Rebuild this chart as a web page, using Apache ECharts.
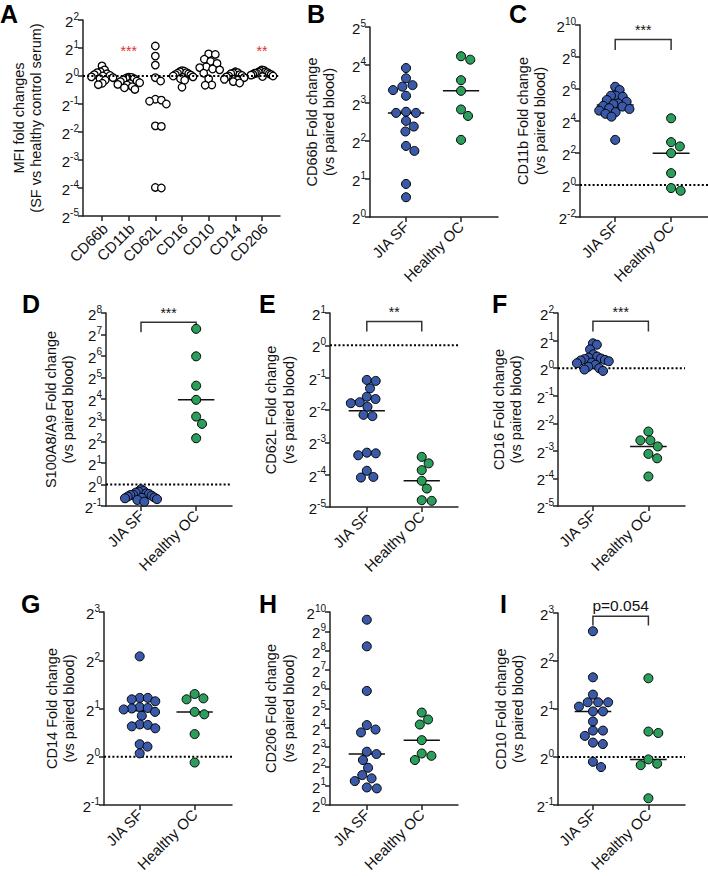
<!DOCTYPE html>
<html><head><meta charset="utf-8">
<script src="https://cdn.jsdelivr.net/npm/echarts@6/dist/echarts.min.js"></script>
<style>html,body{margin:0;padding:0;background:#fff}#c{width:708px;height:876px}</style>
</head><body><div id="c"></div>
<script>
// ===== DATA (values are log2 fold change, i.e. the exponent n of 2^n) =====
const groupLabels = ['JIA SF', 'Healthy OC'];
const markerLabels = ['CD66b', 'CD11b', 'CD62L', 'CD16', 'CD10', 'CD14', 'CD206'];

// Panel A: MFI fold changes (SF vs healthy control serum)
const aCD66b = [0.36, 0.22, 0.15, 0.12, 0.08, 0.05, 0.02, 0.0, -0.03, -0.06, -0.1, -0.15, -0.26, -0.31];
const aCD11b = [-0.04, -0.05, -0.08, -0.1, -0.14, -0.18, -0.2, -0.24, -0.27, -0.3, -0.32, -0.38, -0.42, -0.48];
const aCD62L = [1.07, 0.71, 0.39, -0.06, -0.18, -0.83, -0.86, -0.9, -1.0, -1.78, -1.8, -3.98, -4.0];
const aCD16  = [0.19, 0.17, 0.15, 0.12, 0.1, 0.08, 0.05, 0.03, 0.0, -0.03, -0.05, -0.1, -0.15, -0.4];
const aCD10  = [0.79, 0.77, 0.6, 0.52, 0.45, 0.33, 0.3, 0.25, 0.22, 0.1, -0.1, -0.32, -0.33];
const aCD14  = [0.15, 0.12, 0.1, 0.08, 0.05, 0.02, 0.0, -0.03, -0.06, -0.1, -0.12, -0.15, -0.2, -0.25];
const aCD206 = [0.22, 0.2, 0.18, 0.15, 0.14, 0.12, 0.1, 0.1, 0.08, 0.06, 0.05, 0.03, 0.0, -0.02];
const aSigPos = [2, 7];            // category index (CD11b, CD206)
const aSigLevel = [0.89, 0.89];    // exponent level of the stars
const aSigText = ['***', '**'];

// Panels B-I: fold change vs paired blood
const bSF = [3.92, 3.65, 3.47, 3.43, 3.34, 3.19, 2.77, 2.74, 2.74, 2.53, 2.38, 2.25, 1.87, 1.74, 0.87, 0.52];
const bOC = [4.23, 4.14, 3.6, 3.32, 2.83, 2.66, 2.03];
const cSF = [6.14, 5.94, 5.58, 5.58, 5.52, 5.31, 5.2, 5.1, 5.05, 4.95, 4.9, 4.8, 4.75, 4.65, 4.55, 4.45, 4.27, 2.82];
const cOC = [4.17, 2.68, 2.41, 1.99, 0.74, -0.19, -0.36];
const dSF = [-0.22, -0.3, -0.33, -0.38, -0.41, -0.44, -0.47, -0.49, -0.52, -0.56, -0.6, -0.62, -0.64, -0.68, -0.72, -0.8];
const dOC = [7.26, 5.98, 4.61, 3.95, 3.17, 2.83, 2.16];
const eSF = [-1.07, -1.1, -1.33, -1.59, -1.66, -1.76, -1.79, -1.9, -2.15, -2.19, -3.32, -3.34, -3.4, -3.88, -4.07, -4.09];
const eOC = [-3.45, -3.65, -3.86, -4.19, -4.43, -4.79, -4.81];
const fSF = [0.9, 0.85, 0.68, 0.5, 0.42, 0.38, 0.35, 0.33, 0.3, 0.28, 0.25, 0.2, 0.18, 0.12, 0.05, 0.0, -0.05, -0.1];
const fOC = [-2.3, -2.62, -2.62, -2.84, -3.11, -3.27, -3.93];
const gSF = [2.08, 1.22, 1.22, 1.19, 1.15, 1.03, 1.01, 1.0, 0.98, 0.93, 0.85, 0.67, 0.66, 0.63, 0.59, 0.26, 0.21, 0.07];
const gOC = [1.3, 1.21, 1.19, 0.93, 0.88, 0.47, -0.12];
const hSF = [9.6, 8.22, 5.91, 4.14, 3.91, 3.76, 2.76, 2.64, 2.33, 1.93, 1.55, 1.38, 1.24, 0.91, 0.86];
const hOC = [4.79, 4.43, 4.17, 3.36, 2.67, 2.55, 2.33];
const iSF = [2.62, 1.66, 1.3, 1.14, 1.14, 1.14, 1.05, 0.95, 0.95, 0.74, 0.55, 0.55, 0.44, 0.3, 0.27, -0.1, -0.21];
const iOC = [1.64, 0.53, 0.5, -0.05, -0.14, -0.17, -0.86];

// y tick exponents (min, max, step)
const yTicksA = [-5, 2, 1];
const yTicksB = [0, 5, 1];
const yTicksC = [-2, 10, 2];
const yTicksD = [-1, 8, 1];
const yTicksE = [-5, 1, 1];
const yTicksF = [-5, 2, 1];
const yTicksG = [-1, 3, 1];
const yTicksH = [0, 10, 1];
const yTicksI = [-1, 3, 1];

// significance brackets: [lower leg end, bracket top] in exponent units, and label
const bracketC = [8.44, 9.1], sigC = '***';
const bracketD = [7.1, 7.57], sigD = '***';
const bracketE = [0.43, 0.74], sigE = '**';
const bracketF = [1.33, 1.7], sigF = '***';
const bracketI = [2.74, 2.93], sigI = 'p=0.054';

// ===== LAYOUT / STYLE =====
const FONT = "'Liberation Sans', Arial, Helvetica, sans-serif";
const BLUE = '#3a5aa9', GREEN = '#2b9e5c';
const AX = '#222';

const panels = [
  {t:'A', tl:[0,1], grid:[83,20,197,196], xr:[0.2875,7.675], y:yTicksA, cats:markerLabels,
   groups:[aCD66b,aCD11b,aCD62L,aCD16,aCD10,aCD14,aCD206], open:true,
   name:'MFI fold changes\n(SF vs healthy control serum)', gap:38, ref:true},
  {t:'B', tl:[307,1], grid:[370,27,128,190], xr:[0.345,2.672], y:yTicksB, cats:groupLabels, groups:[bSF,bOC],
   name:'CD66b Fold change\n(vs paired blood)', gap:32, ref:false},
  {t:'C', tl:[509,1], grid:[580,25,128,192], xr:[0.37,2.66], y:yTicksC, cats:groupLabels, groups:[cSF,cOC],
   name:'CD11b Fold change\n(vs paired blood)', gap:31, ref:true, br:bracketC, sig:sigC},
  {t:'D', tl:[22,291], grid:[106,313,126,193], xr:[0.365,2.65], y:yTicksD, cats:groupLabels, groups:[dSF,dOC],
   name:'S100A8/A9 Fold change\n(vs paired blood)', gap:29, ref:true, br:bracketD, sig:sigD},
  {t:'E', tl:[259,291], grid:[330,313,128,194], xr:[0.33,2.66], y:yTicksE, cats:groupLabels, groups:[eSF,eOC],
   name:'CD62L Fold change\n(vs paired blood)', gap:32.5, ref:true, br:bracketE, sig:sigE},
  {t:'F', tl:[492,291], grid:[558,313,127,193], xr:[0.37,2.66], y:yTicksF, cats:groupLabels, groups:[fSF,fOC],
   name:'CD16 Fold change\n(vs paired blood)', gap:33, ref:true, br:bracketF, sig:sigF},
  {t:'G', tl:[21,591], grid:[104,612,128,193], xr:[0.35,2.68], y:yTicksG, cats:groupLabels, groups:[gSF,gOC],
   name:'CD14 Fold change\n(vs paired blood)', gap:26, ref:true},
  {t:'H', tl:[259,591], grid:[330,612,128,193], xr:[0.33,2.66], y:yTicksH, cats:groupLabels, groups:[hSF,hOC],
   name:'CD206 Fold change\n(vs paired blood)', gap:32.5, ref:false},
  {t:'I', tl:[500,591], grid:[558,613,127,192], xr:[0.37,2.66], y:yTicksI, cats:groupLabels, groups:[iSF,iOC],
   name:'CD10 Fold change\n(vs paired blood)', gap:31, ref:true, br:bracketI, sig:sigI}
];

function median(a) {
  const s = a.slice().sort((x, y) => x - y), n = s.length;
  return n % 2 ? s[(n - 1) / 2] : (s[n / 2 - 1] + s[n / 2]) / 2;
}

// beeswarm offsets (in x-axis units); swarm is squeezed to at most +-lim px
function swarm(vals, pxY, pxX, sx, sy, lim) {
  const order = vals.map((v, i) => i).sort((a, b) => vals[b] - vals[a]);
  const placed = [], outPx = new Array(vals.length);
  order.forEach(i => {
    const y = vals[i] * pxY, forb = [];
    placed.forEach(p => {
      const d = Math.abs(p.y - y);
      if (d < sy) { const w = sx * Math.sqrt(1 - (d / sy) * (d / sy)); forb.push([p.x - w, p.x + w]); }
    });
    const cands = [0];
    forb.forEach(f => cands.push(f[0], f[1]));
    cands.sort((a, b) => (Math.abs(a) - Math.abs(b)) || (b - a));
    let x = 0;
    for (const c of cands) {
      if (forb.every(f => c <= f[0] + 1e-6 || c >= f[1] - 1e-6)) { x = c; break; }
    }
    placed.push({x: x, y: y});
    outPx[i] = x;
  });
  const m = Math.max.apply(null, outPx.map(Math.abs));
  const k = m > lim ? lim / m : 1;
  return outPx.map(x => x * k / pxX);
}

const grids = [], xAxes = [], yAxes = [], series = [], titles = [];
const colors = [BLUE, GREEN];

panels.forEach((p, i) => {
  titles.push({text: p.t, left: p.tl[0], top: p.tl[1], padding: 0,
    textStyle: {fontFamily: FONT, fontSize: 25, fontWeight: 'bold', color: '#000'}});
  grids.push({left: p.grid[0], top: p.grid[1], width: p.grid[2], height: p.grid[3],
    containLabel: false, outerBoundsMode: 'none'});
  const catVals = p.cats.map((c, k) => k + 1);
  xAxes.push({gridIndex: i, type: 'value', min: p.xr[0], max: p.xr[1],
    axisLine: {show: true, onZero: false, lineStyle: {color: AX, width: 1.5}},
    splitLine: {show: false},
    axisTick: {show: true, customValues: catVals, length: 5, lineStyle: {color: AX, width: 1.5}},
    axisLabel: {show: !p.open, customValues: catVals, interval: 0, hideOverlap: false, rotate: 45, margin: 7,
      fontSize: 15, fontFamily: FONT, color: '#111',
      formatter: v => p.cats[Math.round(v) - 1] || ''}
  });
  yAxes.push({gridIndex: i, type: 'value', min: p.y[0], max: p.y[1], interval: p.y[2],
    axisLine: {show: true, onZero: false, lineStyle: {color: AX, width: 1.5}},
    splitLine: {show: false},
    axisTick: {show: true, length: 5, lineStyle: {color: AX, width: 1.5}},
    axisLabel: {show: true, margin: 4, fontFamily: FONT, color: '#111',
      formatter: v => '{b|2}{s|' + v + '}',
      rich: {b: {fontSize: 15, fontFamily: FONT, color: '#111', lineHeight: 18, verticalAlign: 'bottom'},
             s: {fontSize: 10, fontFamily: FONT, color: '#111', lineHeight: 18, verticalAlign: 'top'}}},
    name: p.name, nameLocation: 'middle', nameRotate: 90, nameGap: p.gap, nameMoveOverlap: false,
    nameTextStyle: {fontSize: 14.5, lineHeight: 17.5, fontFamily: FONT, color: '#111'}
  });

  const pxY = p.grid[3] / (p.y[1] - p.y[0]);
  const pxX = p.grid[2] / (p.xr[1] - p.xr[0]);

  // reference line at 2^0
  if (p.ref) {
    series.push({type: 'custom', xAxisIndex: i, yAxisIndex: i, z: p.open ? 4 : 1, silent: true,
      data: [[p.xr[0], 0]],
      renderItem: (params, api) => {
        const cs = params.coordSys;
        const y = api.coord([api.value(0), api.value(1)])[1];
        return {type: 'line', shape: {x1: cs.x, y1: y, x2: cs.x + cs.width, y2: y},
          style: {stroke: '#000', lineWidth: 2, lineDash: [2, 2.2]}};
      }});
  }

  // medians
  series.push({type: 'custom', xAxisIndex: i, yAxisIndex: i, z: 2, silent: true,
    data: p.groups.map((g, k) => [k + 1, median(g)]),
    renderItem: (params, api) => {
      const a = api.coord([api.value(0) - 0.33, api.value(1)]);
      const b = api.coord([api.value(0) + 0.33, api.value(1)]);
      return {type: 'line', shape: {x1: a[0], y1: a[1], x2: b[0], y2: b[1]},
        style: {stroke: '#111', lineWidth: 1.5}};
    }});

  // dots
  p.groups.forEach((vals, k) => {
    const offs = p.open ? swarm(vals, pxY, pxX, 7.5, 7, 11) : swarm(vals, pxY, pxX, 10, 9, 16);
    series.push({type: 'scatter', xAxisIndex: i, yAxisIndex: i, z: 3, silent: true,
      symbol: 'circle', symbolSize: p.open ? 7.5 : 9,
      itemStyle: {color: p.open ? '#fff' : colors[k], borderColor: '#000', borderWidth: p.open ? 1.3 : 1, opacity: 1},
      data: vals.map((v, j) => [k + 1 + offs[j], v])});
  });

  // category labels for panel A (rotated 45 deg, ending at the tick)
  if (p.open) {
    series.push({type: 'custom', xAxisIndex: i, yAxisIndex: i, z: 3, silent: true,
      data: catVals.map(c => [c, p.y[0]]),
      renderItem: (params, api) => {
        const c = api.coord([api.value(0), api.value(1)]);
        return {type: 'text', x: c[0] + 3, y: c[1] + 10, rotation: Math.PI / 4,
          style: {text: p.cats[params.dataIndex], fontFamily: FONT, fontSize: 15, fill: '#111',
                  align: 'right', verticalAlign: 'middle'}};
      }});
  }

  // significance bracket
  if (p.br) {
    series.push({type: 'custom', xAxisIndex: i, yAxisIndex: i, z: 3, silent: true,
      data: [[1, 2, p.br[0], p.br[1]]],
      renderItem: (params, api) => {
        const p1 = api.coord([api.value(0), api.value(2)]), p2 = api.coord([api.value(0), api.value(3)]);
        const p3 = api.coord([api.value(1), api.value(3)]), p4 = api.coord([api.value(1), api.value(2)]);
        const isP = p.sig.indexOf('p') === 0;
        return {type: 'group', children: [
          {type: 'polyline', shape: {points: [p1, p2, p3, p4]}, style: {stroke: '#333', lineWidth: 1.5, fill: null}},
          {type: 'text', x: (p2[0] + p3[0]) / 2, y: p2[1] - (isP ? 3 : 2),
           style: {text: p.sig, fontFamily: FONT, fontSize: isP ? 15.5 : 14, fill: '#111',
                   align: 'center', verticalAlign: 'bottom'}}
        ]};
      }});
  }

  // red stars in panel A
  if (p.open) {
    series.push({type: 'custom', xAxisIndex: i, yAxisIndex: i, z: 3, silent: true,
      data: aSigPos.map((c, k) => [c, aSigLevel[k]]),
      renderItem: (params, api) => {
        const c = api.coord([api.value(0), api.value(1)]);
        return {type: 'text', x: c[0], y: c[1],
          style: {text: aSigText[params.dataIndex], fontFamily: FONT, fontSize: 14, fill: '#e0302c',
                  align: 'center', verticalAlign: 'middle'}};
      }});
  }
});

const chart = echarts.init(document.getElementById('c'), null, {renderer: 'svg', width: 708, height: 876});
chart.setOption({
  animation: false,
  backgroundColor: '#fff',
  textStyle: {fontFamily: FONT},
  title: titles, grid: grids, xAxis: xAxes, yAxis: yAxes, series: series
});
</script>
</body></html>
